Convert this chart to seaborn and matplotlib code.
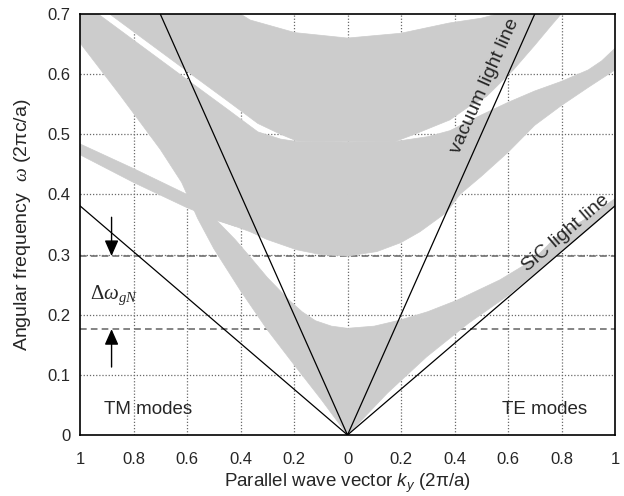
import numpy as np
import matplotlib
matplotlib.use("Agg")
import matplotlib.pyplot as plt
import seaborn as sns
import pandas as pd

# ---------------- data ----------------
x_ticks = [-1.0, -0.8, -0.6, -0.4, -0.2, 0.0, 0.2, 0.4, 0.6, 0.8, 1.0]
x_tick_labels = ["1", "0.8", "0.6", "0.4", "0.2", "0", "0.2", "0.4", "0.6", "0.8", "1"]
y_ticks = [0.0, 0.1, 0.2, 0.3, 0.4, 0.5, 0.6, 0.7]
y_tick_labels = ["0", "0.1", "0.2", "0.3", "0.4", "0.5", "0.6", "0.7"]

# light lines
vacuum_k = [-0.7, 0.0, 0.7]
vacuum_w = [0.7, 0.0, 0.7]
sic_k = [-1.0, 0.0, 1.0]
sic_w = [0.381, 0.0, 0.381]

# gap edges (dashed)
gap_top = 0.2976
gap_bottom = 0.176

# TM side: steep band + bowl
tm_main_k = [-1.0, -0.85, -0.7, -0.62, -0.56, -0.5, -0.4, -0.3, -0.2, -0.1, 0.0,
             0.0, -0.06, -0.12, -0.17, -0.215, -0.3, -0.364, -0.42, -0.49,
             -0.42, -0.364, -0.3, -0.19, -0.1, 0.0,
             0.0, -0.19, -0.25, -0.335, -0.45, -0.6, -0.926, -1.0]
tm_main_w = [0.652, 0.565, 0.475, 0.42, 0.36, 0.31, 0.24, 0.175, 0.117, 0.06, 0.0,
             0.1774, 0.181, 0.19, 0.205, 0.223, 0.262, 0.296, 0.325, 0.357,
             0.347, 0.338, 0.325, 0.308, 0.300, 0.2976,
             0.487, 0.488, 0.492, 0.504, 0.542, 0.591, 0.698, 0.722]

# TM side: band entering from the left at ~0.47
tm_m_k = [-1.0, -0.8, -0.6, -0.5, -0.42, -0.42, -0.5, -0.6, -0.8, -1.0]
tm_m_w = [0.466, 0.42, 0.378, 0.36, 0.347, 0.365, 0.385, 0.40, 0.443, 0.484]

# top band (both sides)
top_k = [-0.94, -0.883, -0.6, -0.45, -0.335, -0.25, -0.19, -0.1, 0.0, 0.178, 0.25,
         0.383, 0.45, 0.52, 0.62, 0.7, 0.76, 0.81, 0.86,
         0.86, 0.6, 0.56, 0.5, 0.38, 0.2, 0.0, -0.196, -0.364, -0.4, -0.43, -0.94]
top_w = [0.717, 0.698, 0.605, 0.556, 0.518, 0.50, 0.489, 0.488, 0.488, 0.488, 0.50,
         0.524, 0.545, 0.563, 0.607, 0.648, 0.68, 0.706, 0.74,
         0.76, 0.72, 0.70, 0.693, 0.685, 0.668, 0.66, 0.669, 0.69, 0.70, 0.72, 0.76]

# TE side: bowl + second band
te_mid_k = [0.0, 0.11, 0.2, 0.271, 0.37, 0.42, 0.5, 0.6, 0.7, 0.8, 0.9, 1.0,
            1.0, 0.95, 0.9, 0.8, 0.7, 0.6, 0.5, 0.383, 0.3, 0.178, 0.0]
te_mid_w = [0.2976, 0.305, 0.32, 0.338, 0.37, 0.40, 0.43, 0.47, 0.515, 0.548, 0.578, 0.607,
            0.643, 0.622, 0.607, 0.588, 0.572, 0.553, 0.532, 0.506, 0.496, 0.488, 0.487]

# TE side: lowest band
te_low_k = [0.0, 0.15, 0.296, 0.45, 0.6, 0.75, 0.9, 1.0,
            1.0, 0.9, 0.8, 0.768, 0.693, 0.57, 0.409, 0.3, 0.196, 0.1, 0.0]
te_low_w = [0.0, 0.07, 0.13, 0.185, 0.232, 0.287, 0.342, 0.381,
            0.393, 0.362, 0.335, 0.324, 0.291, 0.258, 0.224, 0.205, 0.191, 0.181, 0.1774]

bands = [(tm_main_k, tm_main_w), (tm_m_k, tm_m_w), (top_k, top_w),
         (te_mid_k, te_mid_w), (te_low_k, te_low_w)]

# ---------------- style ----------------
sns.set_style("white")
plt.rcParams['font.family'] = ['Liberation Sans', 'DejaVu Sans']
plt.rcParams['mathtext.fontset'] = 'custom'
plt.rcParams['mathtext.rm'] = 'Liberation Serif'
plt.rcParams['mathtext.it'] = 'Liberation Sans:italic'
plt.rcParams['mathtext.bf'] = 'Liberation Serif:italic'

GRAY = '#cccccc'

fig = plt.figure(figsize=(6.24, 4.96), dpi=100)
ax = fig.add_axes([80 / 624, 61 / 496, 535 / 624, 421 / 496])
ax.set_xlim(-1, 1)
ax.set_ylim(0, 0.7)

# dotted grid, drawn under the bands
grid_style = dict(color='#6a6a6a', linestyle=(0, (1, 1.5)), linewidth=0.9, zorder=0.8)
ax.vlines(x_ticks[1:-1], 0, 0.7, **grid_style)
ax.hlines(y_ticks[1:-1], -1, 1, **grid_style)

# dashed gap lines (under the bands)
for g in (gap_top, gap_bottom):
    ax.axhline(g, color='#707070', linestyle=(0, (4, 2.5)), linewidth=1.2, zorder=1)

# bands
for bk, bw in bands:
    ax.fill(bk, bw, color=GRAY, edgecolor=GRAY, linewidth=0.5, zorder=2)

# light lines
lines_df = pd.DataFrame({'k': vacuum_k + sic_k, 'w': vacuum_w + sic_w,
                         'line': ['vacuum'] * 3 + ['SiC'] * 3})
sns.lineplot(data=lines_df, x='k', y='w', units='line', estimator=None, sort=False,
             color='black', linewidth=0.9, ax=ax, zorder=3, legend=False)

# ticks & labels
ax.set_xticks(x_ticks)
ax.set_xticklabels(x_tick_labels, fontsize=12)
ax.set_yticks(y_ticks)
ax.set_yticklabels(y_tick_labels, fontsize=12)
ax.tick_params(axis='x', length=0, pad=12)
ax.tick_params(axis='y', length=0, pad=7)
ax.set_xlabel("Parallel wave vector $k_y$ (2π/a)", fontsize=13.5, labelpad=4)
ax.set_ylabel("Angular frequency  $\\mathbf{\\omega}$ (2πc/a)", fontsize=14, labelpad=10)

for s in ax.spines.values():
    s.set_color('black')
    s.set_linewidth(1.2)
    s.set_zorder(5)

# rotated labels along light lines
def angle_of(k0, w0, k1, w1):
    p0 = ax.transData.transform((k0, w0))
    p1 = ax.transData.transform((k1, w1))
    return np.degrees(np.arctan2(p1[1] - p0[1], p1[0] - p0[0]))

ang_vac = angle_of(0.3, 0.3, 0.6, 0.6)
ang_sic = angle_of(0.5, 0.5 * sic_w[2], 1.0, sic_w[2])
ax.text(0.515, 0.58, "vacuum light line", rotation=ang_vac, rotation_mode='anchor',
        ha='center', va='center', fontsize=14, zorder=4)
ax.text(0.817, 0.336, "SiC light line", rotation=ang_sic, rotation_mode='anchor',
        ha='center', va='center', fontsize=14, zorder=4)

ax.text(-0.745, 0.042, "TM modes", ha='center', va='center', fontsize=13.5, zorder=4)
ax.text(0.738, 0.042, "TE modes", ha='center', va='center', fontsize=13.5, zorder=4)
ax.text(-0.963, 0.226, "$\\mathrm{\\Delta}\\mathbf{\\omega}_{\\mathbf{gN}}$",
        ha='left', va='baseline', fontsize=15, zorder=4)

# arrows marking the gap
arrow_k = -0.882
aprops = dict(arrowstyle='-|>,head_length=0.95,head_width=0.42', color='black',
              lw=1.0, shrinkA=0, shrinkB=0, mutation_scale=10)
ax.annotate("", xy=(arrow_k, gap_top), xytext=(arrow_k, 0.362), arrowprops=aprops, zorder=4)
ax.annotate("", xy=(arrow_k, gap_bottom), xytext=(arrow_k, 0.113), arrowprops=aprops, zorder=4)

fig.savefig("out.png", dpi=100)
